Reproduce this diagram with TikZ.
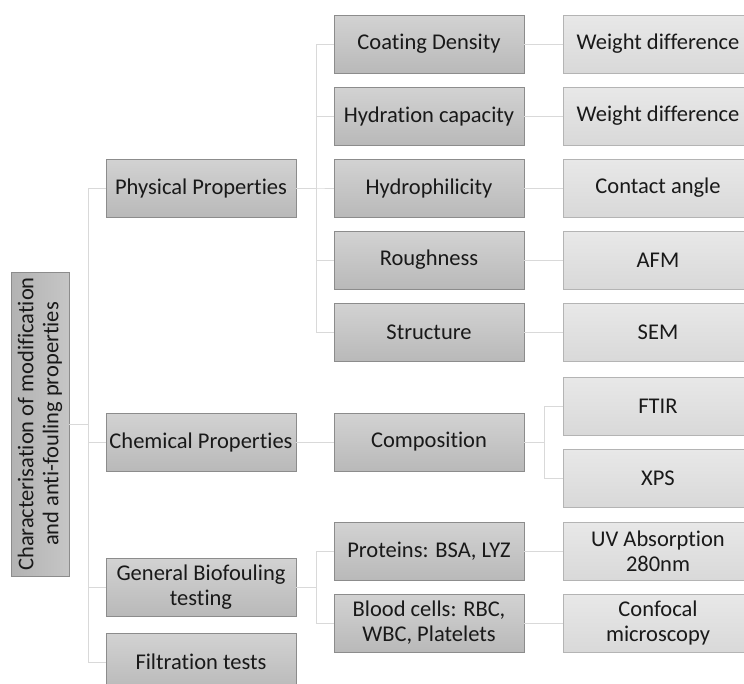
\documentclass[tikz,border=0pt]{standalone}
\usepackage{fontspec}
\setmainfont{Carlito}[RawFeature={-liga;-clig;-dlig;-calt}]
\usetikzlibrary{positioning}

\definecolor{boxline}{HTML}{8C8C8C}
\definecolor{leafline}{HTML}{B4B4B4}
\definecolor{linkgray}{HTML}{D9D9D9}

\tikzset{
  box/.style={draw=boxline, line width=0.8pt, top color=gray!35, bottom color=gray!55,
    minimum width=190pt, minimum height=58pt, inner sep=0pt, outer sep=0pt,
    align=center, text=black!90, font=\fontsize{22.5}{25}\selectfont},
  leaf/.style={box, draw=leafline, top color=gray!18, bottom color=gray!30},
  link/.style={draw=linkgray, line width=0.8pt}
}

\begin{document}
\begin{tikzpicture}[x=1pt, y=-1pt]
  \useasboundingbox (0,0) rectangle (744,683);
  \clip (0,0) rectangle (744,683);

  % root
  \node[box, rotate=90, minimum width=304pt, left color=gray!60, right color=gray!45] (root) at (40,424)
    {Characterisation of modification\\and anti-fouling properties};

  % first level
  \node[box] (phys) at (201,188) {Physical Properties};
  \node[box] (chem) at (201,442) {Chemical Properties};
  \node[box] (bio) at (201,587) {General Biofouling\\testing};
  \node[box] (filt) at (201,662) {Filtration tests};

  % second level
  \node[box] (dens) at (429,44) {Coating Density};
  \node[box, below=14pt of dens] (hydr) {Hydration capacity};
  \node[box, below=14pt of hydr] (hphil) {Hydrophilicity};
  \node[box, below=14pt of hphil] (rough) {Roughness};
  \node[box, below=14pt of rough] (struc) {Structure};
  \node[box] (comp) at (429,442) {Composition};
  \node[box] (prot) at (429,551) {Proteins: BSA, LYZ};
  \node[box, below=14pt of prot] (blood) {Blood cells: RBC,\\WBC, Platelets};

  % methods
  \node[leaf, right=39pt of dens] (wd1) {Weight difference};
  \node[leaf, right=39pt of hydr] (wd2) {Weight difference};
  \node[leaf, right=39pt of hphil] (angle) {Contact angle};
  \node[leaf, right=39pt of rough] (afm) {AFM};
  \node[leaf, right=39pt of struc] (sem) {SEM};
  \node[leaf] (ftir) at (658,406) {FTIR};
  \node[leaf, below=14pt of ftir] (xps) {XPS};
  \node[leaf, right=39pt of prot] (uv) {UV Absorption\\280nm};
  \node[leaf, right=39pt of blood] (conf) {Confocal\\microscopy};

  % links
  \foreach \c in {phys, chem, bio, filt}
    \draw[link] (root.south) -- ++(19,0) |- (\c.west);
  \foreach \c in {dens, hydr, hphil, rough, struc}
    \draw[link] (phys.east) -- ++(20,0) |- (\c.west);
  \draw[link] (chem.east) -- (comp.west);
  \foreach \c in {prot, blood}
    \draw[link] (bio.east) -- ++(20,0) |- (\c.west);
  \foreach \a/\b in {dens/wd1, hydr/wd2, hphil/angle, rough/afm, struc/sem, prot/uv, blood/conf}
    \draw[link] (\a.east) -- (\b.west);
  \foreach \c in {ftir, xps}
    \draw[link] (comp.east) -- ++(20,0) |- (\c.west);
\end{tikzpicture}
\end{document}
